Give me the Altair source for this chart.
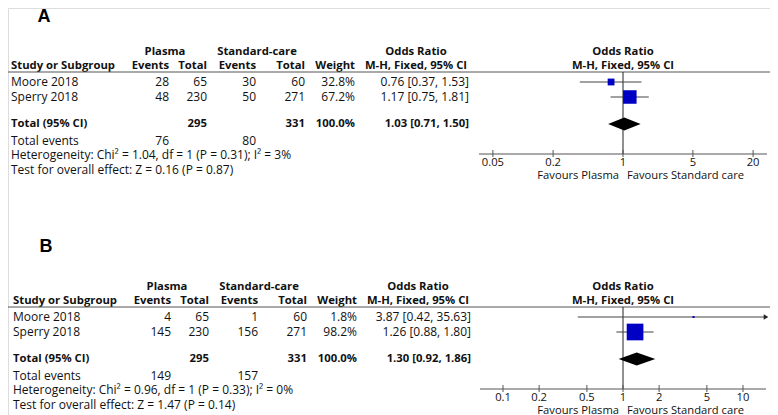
import altair as alt
import pandas as pd

# ---------------- data ----------------
studies = ["Moore 2018", "Sperry 2018"]
panel_labels = ["A", "B"]

a_plasma_events = [28, 48]
a_plasma_total = [65, 230]
a_std_events = [30, 50]
a_std_total = [60, 271]
a_weight = [32.8, 67.2]
a_or = [0.76, 1.17]
a_lo = [0.37, 0.75]
a_hi = [1.53, 1.81]
a_total_n = [295, 331]
a_total_weight = 100.0
a_total_or = [1.03, 0.71, 1.50]
a_total_events = [76, 80]
a_het = "Heterogeneity: Chi² = 1.04, df = 1 (P = 0.31); I² = 3%"
a_test = "Test for overall effect: Z = 0.16 (P = 0.87)"
a_ticks = [0.05, 0.2, 1, 5, 20]
a_tick_labels = ["0.05", "0.2", "1", "5", "20"]

b_plasma_events = [4, 145]
b_plasma_total = [65, 230]
b_std_events = [1, 156]
b_std_total = [60, 271]
b_weight = [1.8, 98.2]
b_or = [3.87, 1.26]
b_lo = [0.42, 0.88]
b_hi = [35.63, 1.80]
b_total_n = [295, 331]
b_total_weight = 100.0
b_total_or = [1.30, 0.92, 1.86]
b_total_events = [149, 157]
b_het = "Heterogeneity: Chi² = 0.96, df = 1 (P = 0.33); I² = 0%"
b_test = "Test for overall effect: Z = 1.47 (P = 0.14)"
b_ticks = [0.1, 0.2, 0.5, 1, 2, 5, 10]
b_tick_labels = ["0.1", "0.2", "0.5", "1", "2", "5", "10"]

header1 = ["Plasma", "Standard-care", "Odds Ratio"]
header2 = ["Study or Subgroup", "Events", "Total", "Events", "Total", "Weight", "M-H, Fixed, 95% CI"]
total_label = "Total (95% CI)"
total_events_label = "Total events"
favours = ["Favours Plasma", "Favours Standard care"]

# ---------------- layout (pixels, page coords of panel A) ----------------
FONT = "Open Sans"
FS = 12
FSB = 11.3
FSA = 11.2
TXT = "#111111"
OFF = 8  # page margin
ROW = dict(label=17, h1=52, h2=66, line=72, r0=82, r1=97, total=124, tev=141,
           het=155, test=170, axis=154, ticklab=162.5, fav=175.5)
COL = dict(study=11, pe=169, pt=207, se=256, st=305, w=355, ort=469,
           plasma=165, std=257, orh=416, label=44)

panels = [
    dict(dx=0, dy=0, line_x0=0, domain=[0.03631, 27.54], rng=[479, 767], size=[4, 400],
         pe=a_plasma_events, pt=a_plasma_total, se=a_std_events, st=a_std_total, w=a_weight,
         orv=a_or, lo=a_lo, hi=a_hi, tn=a_total_n, tw=a_total_weight, tor=a_total_or,
         tev=a_total_events, het=a_het, test=a_test, ticks=a_ticks, tl=a_tick_labels, ldy=0),
    dict(dx=2, dy=235, line_x0=5, domain=[0.0643, 15.55], rng=[480, 766], size=[4, 289],
         pe=b_plasma_events, pt=b_plasma_total, se=b_std_events, st=b_std_total, w=b_weight,
         orv=b_or, lo=b_lo, hi=b_hi, tn=b_total_n, tw=b_total_weight, tor=b_total_or,
         tev=b_total_events, het=b_het, test=b_test, ticks=b_ticks, tl=b_tick_labels, ldy=-5),
]

# ---------------- table text ----------------
items = []


def add(text, col, row, align, bold, p):
    items.append(dict(text=str(text), x=COL[col] + p["dx"] - OFF, y=ROW[row] + p["dy"] - OFF,
                      style=align + ("-b" if bold else "-n")))


def fmt_or(v, l, h):
    return f"{v:.2f} [{l:.2f}, {h:.2f}]"


for p in panels:
    add(header1[0], "plasma", "h1", "center", True, p)
    add(header1[1], "std", "h1", "center", True, p)
    add(header1[2], "orh", "h1", "center", True, p)
    add(header2[0], "study", "h2", "left", True, p)
    for t, c in zip(header2[1:6], ["pe", "pt", "se", "st", "w"]):
        add(t, c, "h2", "right", True, p)
    add(header2[6], "orh", "h2", "center", True, p)
    for i, s in enumerate(studies):
        r = f"r{i}"
        add(s, "study", r, "left", False, p)
        add(p["pe"][i], "pe", r, "right", False, p)
        add(p["pt"][i], "pt", r, "right", False, p)
        add(p["se"][i], "se", r, "right", False, p)
        add(p["st"][i], "st", r, "right", False, p)
        add(f"{p['w'][i]:.1f}%", "w", r, "right", False, p)
        add(fmt_or(p["orv"][i], p["lo"][i], p["hi"][i]), "ort", r, "right", False, p)
    add(total_label, "study", "total", "left", True, p)
    add(p["tn"][0], "pt", "total", "right", True, p)
    add(p["tn"][1], "st", "total", "right", True, p)
    add(f"{p['tw']:.1f}%", "w", "total", "right", True, p)
    add(fmt_or(*p["tor"]), "ort", "total", "right", True, p)
    add(total_events_label, "study", "tev", "left", False, p)
    add(p["tev"][0], "pe", "tev", "right", False, p)
    add(p["tev"][1], "se", "tev", "right", False, p)
    add(p["het"], "study", "het", "left", False, p)
    add(p["test"], "study", "test", "left", False, p)

tdf = pd.DataFrame(items)

XN = alt.X("x:Q", scale=None, axis=None)
YN = alt.Y("y:Q", scale=None, axis=None)

layers = []
for style in ["left-n", "left-b", "right-n", "right-b", "center-b"]:
    align, w = style.split("-")
    layers.append(
        alt.Chart(tdf).transform_filter(alt.datum.style == style)
        .mark_text(align=align, baseline="middle", font=FONT,
                   fontSize=FSB if w == "b" else FS, color=TXT,
                   fontWeight="bold" if w == "b" else "normal")
        .encode(x=XN, y=YN, text="text:N")
    )

# panel letters
ldf = pd.DataFrame(dict(text=panel_labels,
                        x=[COL["label"] + p["dx"] - OFF for p in panels],
                        y=[ROW["label"] + p["dy"] + p["ldy"] - OFF for p in panels]))
layers.append(alt.Chart(ldf).mark_text(font="Liberation Sans", fontSize=18, fontWeight="bold",
                                        color="black", align="center", baseline="middle")
              .encode(x=XN, y=YN, text="text:N"))

# header separators
hdf = pd.DataFrame(dict(x=[p["line_x0"] - OFF for p in panels], x2=[769] * 2,
                        y=[ROW["line"] + p["dy"] - OFF for p in panels]))
layers.append(alt.Chart(hdf).mark_rule(color="#555", strokeWidth=1)
              .encode(x=XN, x2="x2:Q", y=YN))

# ---------------- forest plots ----------------
for p in panels:
    dy = p["dy"] - OFF
    xs = alt.Scale(type="log", domain=p["domain"], range=[v - OFF for v in p["rng"]], clamp=True)
    fdf = pd.DataFrame(dict(study=studies, orv=p["orv"], lo=p["lo"], hi=p["hi"], w=p["w"],
                            y=[ROW["r0"] + dy, ROW["r1"] + dy]))
    base = alt.Chart(fdf)
    ci = base.mark_rule(color="#444", strokeWidth=1).encode(
        x=alt.X("lo:Q", scale=xs, axis=None), x2="hi:Q", y=YN)
    sq = base.mark_square(color="#0000c4", opacity=1).encode(
        x=alt.X("orv:Q", scale=xs, axis=None), y=YN,
        size=alt.Size("w:Q", scale=alt.Scale(type="pow", exponent=2, domain=[0, 100], range=p["size"]),
                      legend=None))
    arrow = base.transform_filter(alt.datum.hi > p["domain"][1]).mark_point(
        shape="triangle-right", filled=True, size=28, color="#222", opacity=1).encode(
        x=alt.X("hi:Q", scale=xs, axis=None), y=YN)

    cy = ROW["total"] + dy
    hh = 6.5
    tor = p["tor"]
    ddf = pd.DataFrame(dict(v=[tor[1], tor[0], tor[2]], yt=[cy, cy - hh, cy], yb=[cy, cy + hh, cy]))
    diamond = alt.Chart(ddf).mark_area(color="black", opacity=1, interpolate="linear").encode(
        x=alt.X("v:Q", scale=xs, axis=None), y=alt.Y("yt:Q", scale=None, axis=None), y2="yb:Q")

    ref = pd.DataFrame(dict(v=[1.0]))
    ay = ROW["axis"] + dy
    vline = alt.Chart(ref).mark_rule(color="#222", strokeWidth=1).encode(
        x=alt.X("v:Q", scale=xs, axis=None), y=alt.value(ROW["line"] + dy), y2=alt.value(ay))
    h1 = alt.Chart(ref).mark_text(font=FONT, fontSize=FSB, fontWeight="bold", color=TXT,
                                  baseline="middle").encode(
        x=alt.X("v:Q", scale=xs, axis=None), y=alt.value(ROW["h1"] + dy), text=alt.value(header1[2]))
    h2 = alt.Chart(ref).mark_text(font=FONT, fontSize=FSB, fontWeight="bold", color=TXT,
                                  baseline="middle").encode(
        x=alt.X("v:Q", scale=xs, axis=None), y=alt.value(ROW["h2"] + dy), text=alt.value(header2[6]))
    fav_l = alt.Chart(ref).mark_text(font=FONT, fontSize=FSA, color=TXT, align="right", dx=-4,
                                     baseline="middle").encode(
        x=alt.X("v:Q", scale=xs, axis=None), y=alt.value(ROW["fav"] + dy), text=alt.value(favours[0]))
    fav_r = alt.Chart(ref).mark_text(font=FONT, fontSize=FSA, color=TXT, align="left", dx=4,
                                     baseline="middle").encode(
        x=alt.X("v:Q", scale=xs, axis=None), y=alt.value(ROW["fav"] + dy), text=alt.value(favours[1]))

    adf = pd.DataFrame(dict(a=[p["domain"][0]], b=[p["domain"][1]]))
    dom = alt.Chart(adf).mark_rule(color="#555", strokeWidth=1).encode(
        x=alt.X("a:Q", scale=xs, axis=None), x2="b:Q", y=alt.value(ay))
    tdf2 = pd.DataFrame(dict(t=p["ticks"], lab=p["tl"]))
    ticks = alt.Chart(tdf2).mark_rule(color="#555", strokeWidth=1).encode(
        x=alt.X("t:Q", scale=xs, axis=None), y=alt.value(ay - 4), y2=alt.value(ay + 3))
    tlab = alt.Chart(tdf2).mark_text(font=FONT, fontSize=FSA, color=TXT, baseline="middle").encode(
        x=alt.X("t:Q", scale=xs, axis=None), y=alt.value(ROW["ticklab"] + dy), text="lab:N")

    layers.append(alt.layer(vline, ci, sq, arrow, diamond, dom, ticks, tlab, h1, h2, fav_l, fav_r))

chart = alt.layer(*layers).resolve_scale(x="independent", size="independent").properties(
    width=762, height=407, padding=0,
    autosize=alt.AutoSizeParams(type="none"),
).configure_view(stroke=None).configure(background="white")

chart.save("out.html", embed_options={"renderer": "svg", "actions": False})
